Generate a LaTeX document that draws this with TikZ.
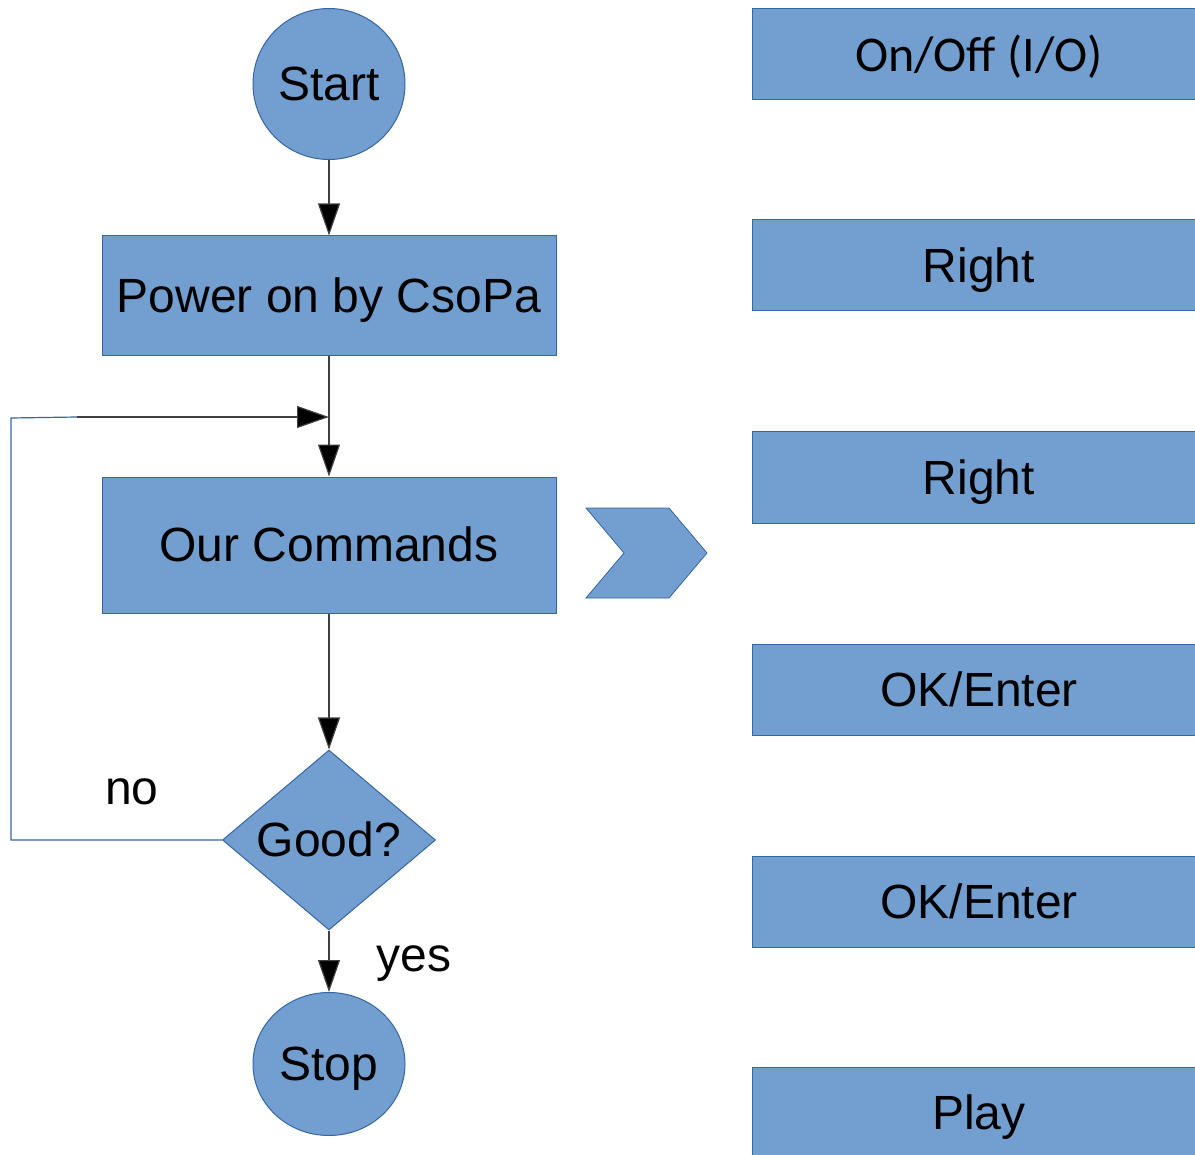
\documentclass[tikz,border=0pt]{standalone}
\usepackage{fontspec}
\setmainfont{Liberation Sans}
\newfontfamily\keyfont{Carlito}
\usetikzlibrary{shapes.geometric}
\usetikzlibrary{arrows.meta}
\definecolor{boxfill}{HTML}{729FCF}
\definecolor{boxline}{HTML}{3465A4}

\begin{document}
\begin{tikzpicture}[x=0.5pt,y=-0.5pt,
    every node/.style={font=\fontsize{24}{28}\selectfont,text height=21.7pt,text depth=5.1pt},
    terminal/.style={ellipse,draw=boxline,fill=boxfill,line width=0.5pt,inner sep=0pt,minimum width=76pt},
    process/.style={rectangle,draw=boxline,fill=boxfill,line width=0.5pt,minimum width=227pt,inner sep=0pt},
    decision/.style={diamond,shape aspect=1.18,draw=boxline,fill=boxfill,line width=0.5pt,inner sep=0pt,minimum width=106.5pt,minimum height=90pt},
    keybox/.style={rectangle,draw=boxline,fill=boxfill,line width=0.5pt,minimum width=227pt,minimum height=45.5pt,inner sep=0pt},
    conn/.style={draw=black!75,line width=0.6pt,-{Triangle[width=11pt,length=16pt,fill=black]}},
    loopline/.style={draw=boxline,line width=0.6pt}]
    \useasboundingbox (0,0) rectangle (1195,1155);
    % flow chart
    \node[terminal,minimum height=75.5pt] (start) at (329,84) {Start};
    \node[process,minimum height=60pt] (power) at (329,296) {Power on by CsoPa};
    \node[process,minimum height=68pt] (commands) at (329,545) {Our Commands};
    \node[decision] (good) at (329,840) {Good?};
    \node[terminal,minimum height=71.5pt] (stop) at (329,1064) {Stop};
    \node (no) at (132,788) {no};
    \node (yes) at (414,955) {yes};
    \coordinate (corner) at (11,418);
    \coordinate (tail) at (77,417);
    \coordinate (join) at (329,417);
    \draw[conn] (start) -- (power);
    \draw[conn] (power) -- (commands);
    \draw[conn] (commands) -- (good);
    \draw[conn] (good) -- (stop);
    \draw[loopline] (good.west) -| (corner) -- (tail);
    \draw[conn] (tail) -- (join);
    % chevron
    \fill[boxfill,draw=boxline,line width=0.4pt] (586,508) -- (669,508) -- (707,553) -- (669,598) -- (586,598) -- (624,553) -- cycle;
    % key sequence
    \node[keybox,font=\keyfont\fontsize{25}{29}\selectfont,text height=23.8pt,text depth=6.7pt] (k1) at (979,54) {On/Off (I/O)};
    \node[keybox] (k2) at (979,265.5) {Right};
    \node[keybox] (k3) at (979,477.5) {Right};
    \node[keybox] (k4) at (979,689.5) {OK/Enter};
    \node[keybox] (k5) at (979,901.5) {OK/Enter};
    \node[keybox] (k6) at (979,1113) {Play};
\end{tikzpicture}
\end{document}
